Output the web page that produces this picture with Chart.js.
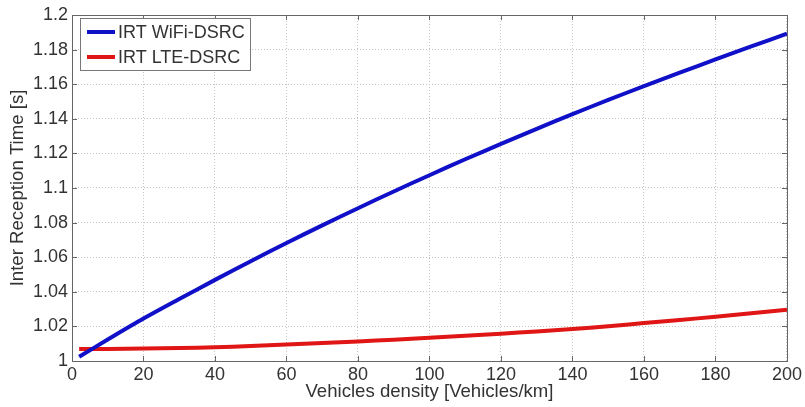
<!DOCTYPE html>
<html>
<head>
<meta charset="utf-8">
<script src="https://cdn.jsdelivr.net/npm/chart.js@4/dist/chart.umd.min.js"></script>
<style>
  html, body { margin: 0; padding: 0; background: #ffffff; }
  #wrap { width: 805px; height: 407px; position: relative; }
</style>
</head>
<body>
<div id="wrap"><canvas id="irt"></canvas></div>
<script>
// Vehicle density samples [Vehicles/km]
const density = [2, 10, 20, 30, 40, 50, 60, 70, 80, 90, 100, 110, 120, 130, 140, 150, 160, 170, 180, 190, 200];

// Inter reception time [s] for each technology
const irtWifiDsrc = [1.0025, 1.0124, 1.0245, 1.0358, 1.0469, 1.0577, 1.0682, 1.0784, 1.0883, 1.0980, 1.1074,
                     1.1166, 1.1255, 1.1342, 1.1427, 1.1509, 1.1589, 1.1667, 1.1743, 1.1818, 1.1892];
const irtLteDsrc  = [1.007, 1.007, 1.0072, 1.0075, 1.0079, 1.0086, 1.0095, 1.0104, 1.0113, 1.0123, 1.0134,
                     1.0146, 1.0158, 1.0171, 1.0185, 1.0201, 1.0219, 1.0237, 1.0256, 1.0276, 1.0297];

const seriesNames = ['IRT WiFi-DSRC', 'IRT LTE-DSRC'];

// Axis ticks
const xTicks = [0, 20, 40, 60, 80, 100, 120, 140, 160, 180, 200];
const yTicks = [1, 1.02, 1.04, 1.06, 1.08, 1.1, 1.12, 1.14, 1.16, 1.18, 1.2];
const xTickLabels = ['0', '20', '40', '60', '80', '100', '120', '140', '160', '180', '200'];
const yTickLabels = ['1', '1.02', '1.04', '1.06', '1.08', '1.1', '1.12', '1.14', '1.16', '1.18', '1.2'];

const FONT = 'Liberation Sans, Arial, sans-serif';
const FRAME = '#666666';
const TEXT = '#333333';

const toPoints = (xs, ys) => xs.map((x, i) => ({ x: x, y: ys[i] }));

// Box around the plot with inward tick marks on all four sides
const framePlugin = {
  id: 'frame',
  afterDatasetsDraw(chart) {
    const { ctx, chartArea: a, scales } = chart;
    ctx.save();
    ctx.strokeStyle = FRAME;
    ctx.lineWidth = 1;
    const len = 5;
    ctx.beginPath();
    xTicks.forEach(v => {
      const px = Math.round(scales.x.getPixelForValue(v)) + 0.5;
      ctx.moveTo(px, a.bottom); ctx.lineTo(px, a.bottom - len);
      ctx.moveTo(px, a.top); ctx.lineTo(px, a.top + len);
    });
    yTicks.forEach(v => {
      const py = Math.round(scales.y.getPixelForValue(v)) + 0.5;
      ctx.moveTo(a.left, py); ctx.lineTo(a.left + len, py);
      ctx.moveTo(a.right, py); ctx.lineTo(a.right - len, py);
    });
    ctx.stroke();
    ctx.strokeRect(Math.round(a.left) + 0.5, Math.round(a.top) + 0.5,
                   Math.round(a.right - a.left), Math.round(a.bottom - a.top));
    ctx.restore();
  }
};

// Legend box drawn inside the plot, top-left corner
const boxLegendPlugin = {
  id: 'boxLegend',
  afterDraw(chart) {
    const { ctx, chartArea: a } = chart;
    const ds = chart.data.datasets;
    ctx.save();
    ctx.font = '18px ' + FONT;
    const textW = Math.max(...ds.map(d => ctx.measureText(d.label).width));
    const x0 = a.left + 8, y0 = a.top + 3;
    const rowH = 25, sample = 28, gap = 3, padL = 7, padR = 5;
    const w = padL + sample + gap + textW + padR;
    const h = 2 + rowH * ds.length;
    ctx.fillStyle = '#ffffff';
    ctx.fillRect(x0, y0, w, h);
    ctx.strokeStyle = '#777777';
    ctx.lineWidth = 1;
    ctx.strokeRect(Math.round(x0) + 0.5, Math.round(y0) + 0.5, Math.round(w), Math.round(h));
    ds.forEach((d, i) => {
      const cy = y0 + 14 + i * rowH;
      ctx.strokeStyle = d.borderColor;
      ctx.lineWidth = 4;
      ctx.beginPath();
      ctx.moveTo(x0 + padL, cy);
      ctx.lineTo(x0 + padL + sample, cy);
      ctx.stroke();
      ctx.fillStyle = TEXT;
      ctx.textBaseline = 'middle';
      ctx.textAlign = 'left';
      ctx.fillText(d.label, x0 + padL + sample + gap, cy + 1);
    });
    ctx.restore();
  }
};

new Chart(document.getElementById('irt'), {
  type: 'line',
  data: {
    datasets: [
      {
        label: seriesNames[0],
        data: toPoints(density, irtWifiDsrc),
        borderColor: '#1010c8',
        borderWidth: 4,
        pointRadius: 0,
        tension: 0.3,
        fill: false
      },
      {
        label: seriesNames[1],
        data: toPoints(density, irtLteDsrc),
        borderColor: '#e01515',
        borderWidth: 4,
        pointRadius: 0,
        tension: 0.3,
        fill: false
      }
    ]
  },
  options: {
    responsive: true,
    maintainAspectRatio: false,
    animation: false,
    devicePixelRatio: 1,
    layout: { padding: { top: 15, right: 17, left: 0, bottom: 0 } },
    plugins: {
      legend: { display: false },
      tooltip: { enabled: false }
    },
    scales: {
      x: {
        type: 'linear',
        min: 0,
        max: 200,
        afterBuildTicks: s => { s.ticks = xTicks.map(v => ({ value: v })); },
        afterFit: s => { s.height = 46; },
        ticks: {
          autoSkip: false,
          maxRotation: 0,
          padding: 3,
          color: TEXT,
          font: { family: FONT, size: 18 },
          callback: (v) => xTickLabels[xTicks.indexOf(v)]
        },
        grid: { color: '#c4c4c4', lineWidth: 1, drawTicks: false },
        border: { display: false, dash: [1, 2] },
        title: {
          display: true,
          text: 'Vehicles density [Vehicles/km]',
          color: TEXT,
          font: { family: FONT, size: 18.6, lineHeight: 1.2 },
          padding: { top: 0, bottom: 4 }
        }
      },
      y: {
        type: 'linear',
        min: 1,
        max: 1.2,
        afterBuildTicks: s => { s.ticks = yTicks.map(v => ({ value: v })); },
        afterFit: s => { s.width = 72; },
        ticks: {
          autoSkip: false,
          padding: 4,
          color: TEXT,
          font: { family: FONT, size: 18 },
          callback: (v) => yTickLabels[yTicks.findIndex(t => Math.abs(t - v) < 1e-9)]
        },
        grid: { color: '#c4c4c4', lineWidth: 1, drawTicks: false },
        border: { display: false, dash: [1, 2] },
        title: {
          display: true,
          text: 'Inter Reception Time [s]',
          color: TEXT,
          font: { family: FONT, size: 18.6, lineHeight: 1.2 },
          padding: { top: 7, bottom: 0 }
        }
      }
    }
  },
  plugins: [framePlugin, boxLegendPlugin]
});
</script>
</body>
</html>
